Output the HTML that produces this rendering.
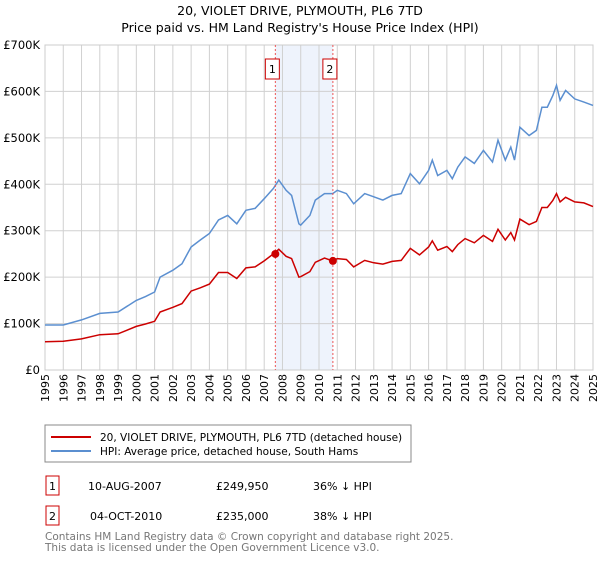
<!DOCTYPE html>
<html><head><meta charset="utf-8"><style>
body{margin:0;background:#fff;font-family:"Liberation Sans","DejaVu Sans",sans-serif;}
svg text{font-family:"DejaVu Sans","Liberation Sans",sans-serif;}
</style></head><body>
<svg id="chart" width="600" height="560" xmlns="http://www.w3.org/2000/svg">
<text x="300" y="15" text-anchor="middle" font-size="12.5" fill="#000">20, VIOLET DRIVE, PLYMOUTH, PL6 7TD</text>
<text x="300" y="32" text-anchor="middle" font-size="12.5" fill="#000">Price paid vs. HM Land Registry's House Price Index (HPI)</text>
<g id="grid"></g>
<g id="marks"></g>
<g id="axes"></g>
<rect x="45" y="425" width="366" height="37" fill="#fff" stroke="#888"/>
<line x1="51" y1="437" x2="91" y2="437" stroke="#cc0000" stroke-width="2"/>
<text x="100" y="441" font-size="10.5">20, VIOLET DRIVE, PLYMOUTH, PL6 7TD (detached house)</text>
<line x1="51" y1="451" x2="91" y2="451" stroke="#5b8fd0" stroke-width="2"/>
<text x="100" y="455" font-size="10.5">HPI: Average price, detached house, South Hams</text>
<rect x="46" y="476" width="13" height="19" fill="#fff" stroke="#cc0000"/>
<text x="52.5" y="490" font-size="11" text-anchor="middle">1</text>
<text x="88" y="490" font-size="11">10-AUG-2007</text>
<text x="216" y="490" font-size="11">£249,950</text>
<text x="313" y="490" font-size="11">36% ↓ HPI</text>
<rect x="46" y="506" width="13" height="19" fill="#fff" stroke="#cc0000"/>
<text x="52.5" y="520" font-size="11" text-anchor="middle">2</text>
<text x="90" y="520" font-size="11">04-OCT-2010</text>
<text x="216" y="520" font-size="11">£235,000</text>
<text x="313" y="520" font-size="11">38% ↓ HPI</text>
<text x="45" y="540" font-size="10.5" fill="#777">Contains HM Land Registry data © Crown copyright and database right 2025.</text>
<text x="45" y="551" font-size="10.5" fill="#777">This data is licensed under the Open Government Licence v3.0.</text>
</svg>
<script>
const years=[1995,1996,1997,1998,1999,2000,2000.5,2001,2001.3,2002,2002.5,2003,2003.5,2004,2004.5,2005,2005.5,2006,2006.5,2007,2007.5,2007.8,2008.2,2008.5,2008.9,2009,2009.5,2009.8,2010.3,2010.75,2011,2011.5,2011.9,2012.5,2013,2013.5,2014,2014.5,2015,2015.5,2016,2016.2,2016.5,2017,2017.3,2017.6,2018,2018.5,2019,2019.5,2019.8,2020.2,2020.5,2020.7,2021,2021.5,2021.9,2022.2,2022.5,2022.8,2023,2023.2,2023.5,2024,2024.5,2025];
const hpiValues=[97,97,108,122,125,150,158,168,200,215,229,265,280,294,323,333,315,344,348,369,391,409,387,376,315,312,333,366,380,380,387,380,358,380,373,366,376,380,423,401,430,452,419,430,412,437,459,445,473,448,495,452,480,452,523,505,516,566,566,591,613,581,602,584,577,570];
const propertyValues=[61,62,67,76,78,94,99,105,125,135,143,170,177,185,210,210,197,220,222,235,250,260,245,240,200,201,212,232,241,235,240,238,222,236,231,228,234,236,262,248,265,278,258,266,255,270,283,274,290,277,303,280,296,280,325,313,320,350,350,365,380,362,372,362,360,352];
const saleYears=[2007.61,2010.76];
const salePrices=[249.95,235];
const saleLabels=["1","2"];
const yTicks=[0,100,200,300,400,500,600,700];
const yTickLabels=["£0","£100K","£200K","£300K","£400K","£500K","£600K","£700K"];
const xTicks=[1995,1996,1997,1998,1999,2000,2001,2002,2003,2004,2005,2006,2007,2008,2009,2010,2011,2012,2013,2014,2015,2016,2017,2018,2019,2020,2021,2022,2023,2024,2025];

const X0=45,X1=593,Y0=370,Y1=45;
const xs=v=>X0+(v-1995)/30*(X1-X0);
const ys=v=>Y0-v/700*(Y0-Y1);
const NS="http://www.w3.org/2000/svg";
function mk(tag,attrs,parent){const e=document.createElementNS(NS,tag);for(const k in attrs)e.setAttribute(k,attrs[k]);parent.appendChild(e);return e;}
const grid=document.getElementById('grid'),marks=document.getElementById('marks'),axes=document.getElementById('axes');
let band=mk('rect',{x:xs(saleYears[0]),y:Y1,width:xs(saleYears[1])-xs(saleYears[0]),height:Y0-Y1,fill:'#eef3fc'},grid);


xTicks.forEach((t,i)=>{
 let l=mk('line',{x1:xs(t),x2:xs(t),y1:Y1,y2:Y0,stroke:'#d0d0d0','stroke-width':1},grid);
 
 
 const tx=xs(t)+4;
 let tt=mk('text',{x:0,y:0,'font-size':11,'text-anchor':'end',transform:`translate(${tx},374) rotate(-90)`},axes);
 tt.textContent=t;
 
 
});
yTicks.forEach((t,i)=>{
 let l=mk('line',{x1:X0,x2:X1,y1:ys(t),y2:ys(t),stroke:'#d0d0d0','stroke-width':1},grid);
 
 
 let tt=mk('text',{x:40,y:ys(t)+4,'font-size':11.5,'text-anchor':'end'},axes);
 tt.textContent=yTickLabels[i];
 
 
});
let ax=mk('rect',{x:X0,y:Y1,width:X1-X0,height:Y0-Y1,fill:'none',stroke:'#ccc'},grid);


function pts(vals){return vals.map((v,i)=>xs(years[i]).toFixed(1)+','+ys(v).toFixed(1)).join(' ');}
let hp=mk('polyline',{points:pts(hpiValues),fill:'none',stroke:'#5b8fd0','stroke-width':1.5},marks);


let pp=mk('polyline',{points:pts(propertyValues),fill:'none',stroke:'#cc0000','stroke-width':1.5},marks);


saleYears.forEach((s,i)=>{
 let l=mk('line',{x1:xs(s),x2:xs(s),y1:Y1,y2:Y0,stroke:'#ee5555','stroke-dasharray':'2,2','stroke-width':1},marks);
 
 
 let c=mk('circle',{cx:xs(s),cy:ys(salePrices[i]),r:4,fill:'#cc0000'},marks);
 
 
 let b=mk('rect',{x:xs(s)-10,y:59,width:14,height:20,fill:'#fff',stroke:'#cc0000'},marks);
 
 
 let t=mk('text',{x:xs(s)-3,y:73,'font-size':11,'text-anchor':'middle'},marks);
 t.textContent=saleLabels[i];
 
 
});
</script>
</body></html>
